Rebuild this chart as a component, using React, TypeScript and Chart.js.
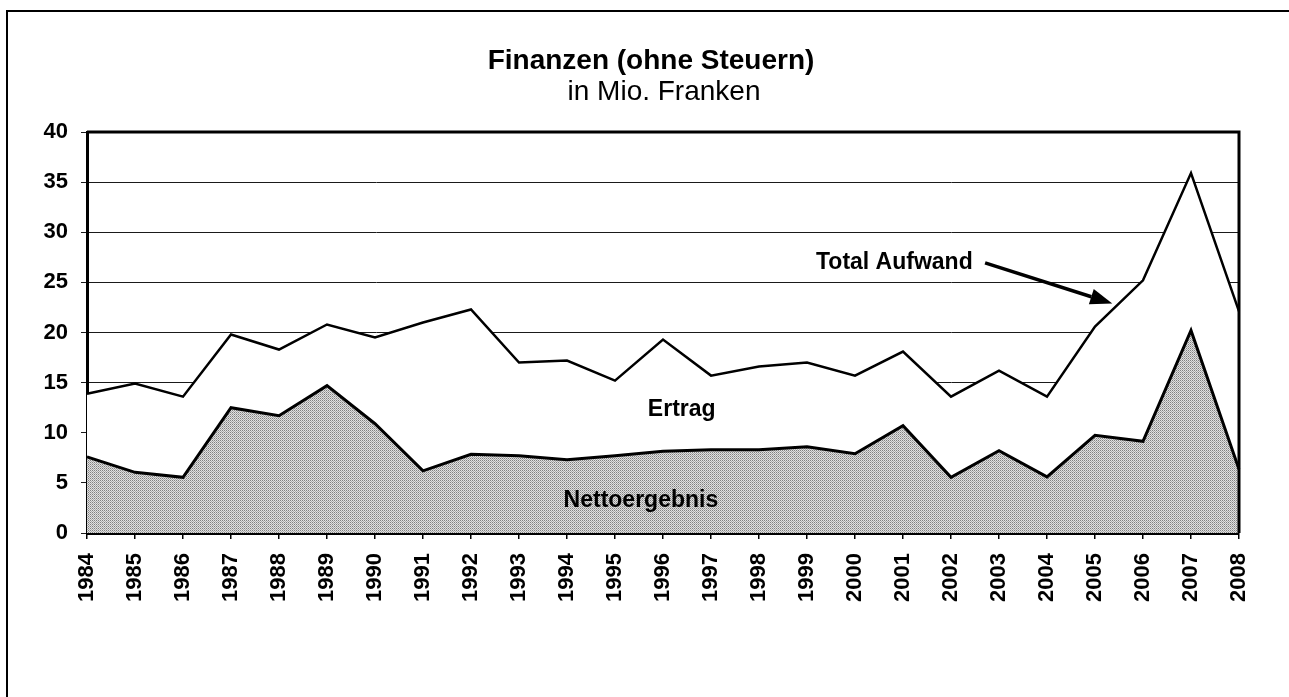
import React, { useEffect, useRef } from "react";
import { Chart, registerables } from "chart.js";

Chart.register(...registerables);

const years = [
  "1984", "1985", "1986", "1987", "1988", "1989", "1990", "1991", "1992", "1993",
  "1994", "1995", "1996", "1997", "1998", "1999", "2000", "2001", "2002", "2003",
  "2004", "2005", "2006", "2007", "2008",
];

const totalAufwand = [
  13.9, 14.9, 13.6, 19.8, 18.3, 20.8, 19.5, 21.0, 22.3, 17.0,
  17.2, 15.2, 19.3, 15.7, 16.6, 17.0, 15.7, 18.1, 13.6, 16.2,
  13.6, 20.6, 25.2, 35.9, 22.1,
];

const nettoergebnis = [
  7.6, 6.05, 5.55, 12.5, 11.7, 14.7, 10.9, 6.2, 7.85, 7.7,
  7.3, 7.7, 8.15, 8.3, 8.3, 8.6, 7.9, 10.7, 5.55, 8.2,
  5.6, 9.75, 9.15, 20.2, 6.35,
];

const yTicks = [0, 5, 10, 15, 20, 25, 30, 35, 40];

const titleText = "Finanzen (ohne Steuern)";
const subtitleText = "in Mio. Franken";
const FONT = "'Liberation Sans', Arial, sans-serif";

function makePattern(): CanvasPattern | string {
  const c = document.createElement("canvas");
  c.width = 2;
  c.height = 2;
  const g = c.getContext("2d");
  if (!g) return "#bbbbbb";
  g.fillStyle = "#e0e0e0";
  g.fillRect(0, 0, 2, 2);
  g.fillStyle = "#808080";
  g.fillRect(0, 0, 1, 1);
  g.fillStyle = "#aaaaaa";
  g.fillRect(1, 1, 1, 1);
  const p = g.createPattern(c, "repeat");
  return p || "#bbbbbb";
}

const decorPlugin = {
  id: "decor",
  afterDraw(chart: any) {
    const ctx = chart.ctx;
    const a = chart.chartArea;
    const xs = chart.scales.x;
    const ys = chart.scales.y;
    ctx.save();
    // plot frame (top and right)
    ctx.strokeStyle = "#000";
    ctx.lineWidth = 3;
    ctx.beginPath();
    ctx.moveTo(a.left, a.top);
    ctx.lineTo(a.right, a.top);
    ctx.lineTo(a.right, a.bottom);
    ctx.stroke();

    // outer frame
    ctx.lineWidth = 2;
    ctx.strokeRect(7, 11, 1400, 900);

    // titles
    ctx.fillStyle = "#000";
    ctx.textAlign = "center";
    ctx.textBaseline = "middle";
    ctx.font = `bold 28px ${FONT}`;
    ctx.fillText(titleText, 651, 61);
    ctx.font = `28px ${FONT}`;
    ctx.fillText(subtitleText, 664, 92);

    // annotations
    ctx.font = `bold 23px ${FONT}`;
    ctx.fillText("Ertrag", xs.getPixelForValue(12.39), ys.getPixelForValue(12.3));
    ctx.fillText("Nettoergebnis", xs.getPixelForValue(11.54), ys.getPixelForValue(3.2));
    ctx.fillText("Total Aufwand", xs.getPixelForValue(16.82), ys.getPixelForValue(27.0));

    // arrow
    const x1 = xs.getPixelForValue(18.71);
    const y1 = ys.getPixelForValue(26.95);
    const x2 = xs.getPixelForValue(21.36);
    const y2 = ys.getPixelForValue(22.9);
    const ang = Math.atan2(y2 - y1, x2 - x1);
    const headLen = 22;
    const headW = 8;
    const bx = x2 - headLen * Math.cos(ang);
    const by = y2 - headLen * Math.sin(ang);
    ctx.lineWidth = 3.5;
    ctx.beginPath();
    ctx.moveTo(x1, y1);
    ctx.lineTo(bx, by);
    ctx.stroke();
    ctx.beginPath();
    ctx.moveTo(x2, y2);
    ctx.lineTo(bx + headW * Math.sin(ang), by - headW * Math.cos(ang));
    ctx.lineTo(bx - headW * Math.sin(ang), by + headW * Math.cos(ang));
    ctx.closePath();
    ctx.fill();
    ctx.restore();
  },
};

export default function App() {
  const ref = useRef<HTMLCanvasElement | null>(null);

  useEffect(() => {
    if (!ref.current) return;
    const pattern = makePattern();
    const chart = new Chart(ref.current, {
      type: "line",
      data: {
        labels: years,
        datasets: [
          {
            label: "Nettoergebnis",
            data: nettoergebnis,
            borderColor: "#000",
            borderWidth: 3,
            backgroundColor: pattern as any,
            fill: "origin",
            pointRadius: 0,
            tension: 0,
          },
          {
            label: "Total Aufwand",
            data: totalAufwand,
            borderColor: "#000",
            borderWidth: 2.5,
            backgroundColor: "#ffffff",
            fill: "origin",
            pointRadius: 0,
            tension: 0,
          },
        ],
      },
      options: {
        animation: false,
        responsive: false,
        maintainAspectRatio: false,
        layout: { padding: { left: 0, right: 50, top: 132, bottom: 0 } },
        plugins: {
          legend: { display: false },
          tooltip: { enabled: false },
          title: { display: false },
        },
        scales: {
          x: {
            type: "category",
            offset: false,
            grid: {
              drawOnChartArea: false,
              drawTicks: true,
              tickLength: 6,
              color: "#000",
              lineWidth: 1.5,
            },
            border: { display: true, color: "#000", width: 3 },
            ticks: {
              color: "#000",
              font: { family: FONT, size: 22, weight: "bold" },
              maxRotation: 90,
              minRotation: 90,
              autoSkip: false,
              padding: 14,
            },
            afterFit(scale: any) {
              scale.height = 164;
            },
          },
          y: {
            min: 0,
            max: 40,
            afterBuildTicks(scale: any) {
              scale.ticks = yTicks.map((v) => ({ value: v }));
            },
            grid: {
              color: "#1a1a1a",
              lineWidth: 1,
              drawTicks: true,
              tickLength: 6,
            },
            border: { display: true, color: "#000", width: 3 },
            ticks: {
              color: "#000",
              font: { family: FONT, size: 22, weight: "bold" },
              padding: 13,
            },
            afterFit(scale: any) {
              scale.width = 87;
            },
          },
        },
      },
      plugins: [decorPlugin],
    });
    return () => chart.destroy();
  }, []);

  return (
    <div style={{ position: "fixed", left: 0, top: 0, width: 1289, height: 697, background: "#fff" }}>
      <canvas ref={ref} width={1289} height={697} style={{ width: 1289, height: 697, display: "block" }} />
    </div>
  );
}
